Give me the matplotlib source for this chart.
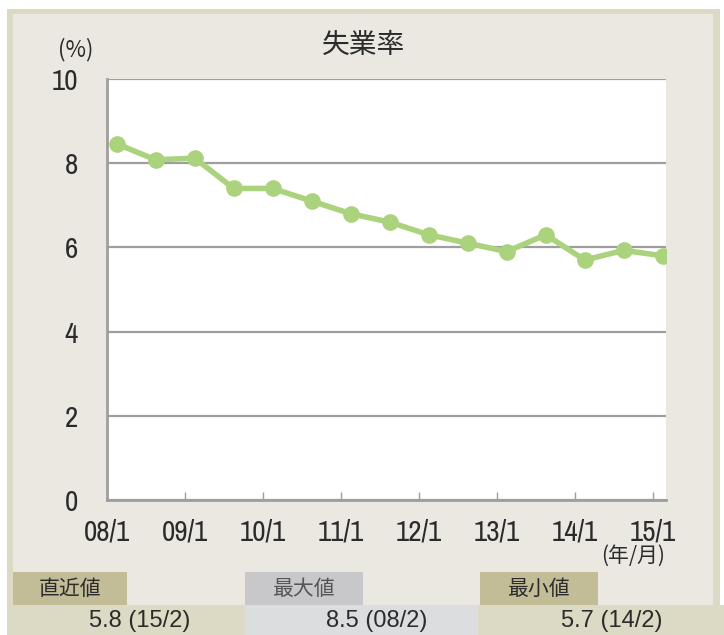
import matplotlib
matplotlib.use("Agg")
import matplotlib.pyplot as plt
from matplotlib import font_manager
from matplotlib.patches import Rectangle

# unemployment rate, half-yearly points (yy/m)
periods = ["08/2", "08/8", "09/2", "09/8", "10/2", "10/8", "11/2", "11/8",
           "12/2", "12/8", "13/2", "13/8", "14/2", "14/8", "15/2"]
rates = [8.46, 8.08, 8.12, 7.4, 7.4, 7.1, 6.8, 6.6,
         6.3, 6.1, 5.9, 6.3, 5.7, 5.93, 5.8]
year_ticks = ["08/1", "09/1", "10/1", "11/1", "12/1", "13/1", "14/1", "15/1"]
y_ticks = [0, 2, 4, 6, 8, 10]

title = "失業率"
box_labels = ["直近値", "最大値", "最小値"]

# look for a narrow face for the tick numbers
names = sorted({f.name for f in font_manager.fontManager.ttflist})
narrow = [n for n in names if "Narrow" in n or "Condensed" in n]

CJK = ["Noto Sans CJK JP", "DejaVu Sans"]
PLAIN = ["Liberation Sans", "DejaVu Sans"]
if narrow:
    NARROW = [narrow[0], "DejaVu Sans"]
    tick_fs = 21
else:
    NARROW = ["Liberation Sans", "DejaVu Sans"]
    tick_fs = 17

BG = "#EBE8E1"
BORDER = "#DCD9C4"
OLIVE = "#C3BD97"
GREY_LBL = "#C8C8CA"
GREY_VAL = "#DCDDDF"
GREEN = "#ABD27C"
GRID = "#9E9E9E"
TXT = "#2B2B2B"


def months_since_2008(p):
    """'yy/m' -> months after Jan 2008, mid-month"""
    yy, mm = p.split("/")
    return (int(yy) - 8) * 12 + int(mm) - 1 + 0.5


xs = [months_since_2008(p) for p in periods]
tick_x = [months_since_2008(t) - 0.5 for t in year_ticks]

W, H = 724, 635
fig = plt.figure(figsize=(W / 100, H / 100), dpi=100)
fig.patch.set_facecolor("white")


def px_rect(x0, y0, x1, y1, color):
    # rectangle in pixel coords (origin top-left)
    fig.patches.append(Rectangle((x0 / W, 1 - y1 / H), (x1 - x0) / W, (y1 - y0) / H,
                                 transform=fig.transFigure, facecolor=color,
                                 edgecolor="none", zorder=-10))


# frame and background
px_rect(7, 9, 720, 635, BORDER)
px_rect(13, 14, 713, 605, BG)

# axes
ax = fig.add_axes([107 / W, 1 - 500 / H, (666 - 107) / W, (500 - 79) / H])
ax.set_facecolor("white")
ax.plot(xs, rates, color=GREEN, lw=4, marker="o", ms=12,
        markeredgewidth=0, solid_joinstyle="round", zorder=3)

ax.set_xlim(0, 86)
ax.set_ylim(0, 10)
ax.set_yticks(y_ticks)
ax.set_yticklabels([str(v) for v in y_ticks], family=NARROW, fontsize=tick_fs,
                   fontweight="light", color=TXT)
ax.set_xticks(tick_x)
ax.set_xticklabels(year_ticks, family=NARROW, fontsize=tick_fs,
                   fontweight="light", color=TXT)
ax.tick_params(axis="x", direction="in", length=6, width=1, color=GRID, pad=13)
ax.tick_params(axis="y", length=0, pad=21)
ax.yaxis.grid(True, color=GRID, lw=1.6)
ax.set_axisbelow(True)
for s in ["top", "right"]:
    ax.spines[s].set_visible(False)
for s in ["left", "bottom"]:
    ax.spines[s].set_color(GRID)
    ax.spines[s].set_linewidth(2)

# titles and units
fig.text(363 / W, 1 - 45 / H, title, family=CJK, fontsize=20, color=TXT,
         ha="center", va="center")
fig.text(76 / W, 1 - 50 / H, "(%)", family=CJK, fontsize=16, color=TXT,
         ha="center", va="center")
fig.text(633 / W, 1 - 556 / H, "(年/月)", family=CJK, fontsize=15, color=TXT,
         ha="center", va="center")

# summary boxes
i_max = rates.index(max(rates))
i_min = rates.index(min(rates))
summary = [
    f"{rates[-1]:.1f} ({periods[-1]})",
    f"{rates[i_max]:.1f} ({periods[i_max]})",
    f"{rates[i_min]:.1f} ({periods[i_min]})",
]
lbl_colors = [OLIVE, GREY_LBL, OLIVE]
val_colors = [BORDER, GREY_VAL, BORDER]
lbl_text_colors = [TXT, "#555555", TXT]
cols = [(13, 127, 7, 245), (245, 363, 245, 478), (480, 598, 478, 724)]
val_centers = [140, 377, 612]

for k in range(3):
    lx0, lx1, vx0, vx1 = cols[k]
    px_rect(lx0, 572, lx1, 605, lbl_colors[k])
    px_rect(vx0, 605, vx1, 635, val_colors[k])
    fig.text((lx0 + lx1) / 2 / W, 1 - 589 / H, box_labels[k], family=CJK,
             fontsize=15, color=lbl_text_colors[k], ha="center", va="center")
    fig.text(val_centers[k] / W, 1 - 621 / H, summary[k], family=PLAIN,
             fontsize=17, color=TXT, ha="center", va="center")

fig.savefig("out.png", dpi=100, facecolor=fig.get_facecolor())
